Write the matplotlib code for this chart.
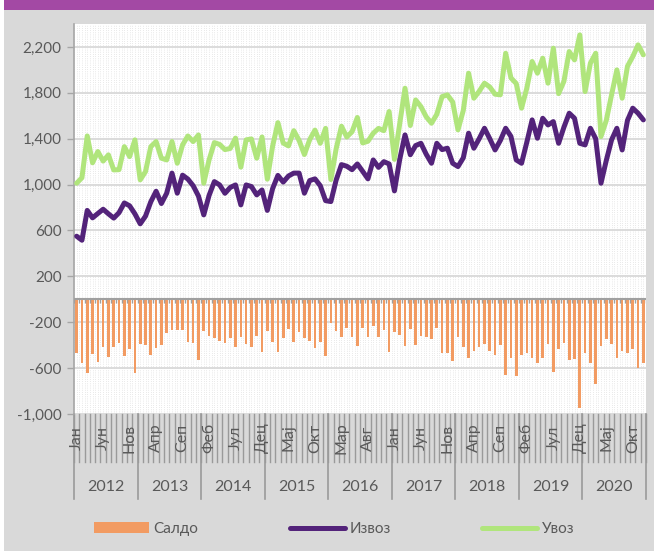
import matplotlib
matplotlib.use("Agg")
import matplotlib.pyplot as plt
import matplotlib.transforms as mtransforms
from matplotlib.patches import Patch, Rectangle
from matplotlib.lines import Line2D
import numpy as np

plt.rcParams['font.family'] = ['Lato', 'DejaVu Sans']

############################################
### data (monthly, Jan 2012 - Dec 2020)

years = ['2012', '2013', '2014', '2015', '2016', '2017', '2018', '2019', '2020']
month_names = ['Јан', 'Феб', 'Мар', 'Апр', 'Мај', 'Јун',
               'Јул', 'Авг', 'Сеп', 'Окт', 'Нов', 'Дец']

izvoz = [550, 515, 775, 710, 748, 785, 745, 708, 755, 840, 815, 745,
         658, 725, 850, 942, 835, 925, 1100, 925, 1082, 1048, 990, 900,
         736, 905, 1026, 997, 924, 975, 997, 823, 997, 983, 910, 953,
         775, 965, 1080, 1022, 1075, 1100, 1100, 925, 1035, 1050, 990, 860,
         852, 1040, 1174, 1160, 1130, 1180, 1116, 1050, 1215, 1150, 1200, 1180,
         945, 1220, 1433, 1260, 1340, 1360, 1265, 1186, 1360, 1305, 1317, 1186,
         1157, 1233, 1448, 1317, 1400, 1491, 1400, 1302, 1385, 1491, 1420, 1215,
         1186, 1370, 1564, 1404, 1578, 1520, 1549, 1360, 1500, 1622, 1578, 1360,
         1346, 1491, 1400, 1012, 1210, 1390, 1491, 1302, 1560, 1666, 1622, 1564]

uvoz = [1012, 1060, 1424, 1190, 1288, 1205, 1259, 1128, 1130, 1331, 1244, 1390,
        1041, 1113, 1331, 1375, 1230, 1215, 1375, 1186, 1346, 1424, 1375, 1433,
        1012, 1215, 1366, 1350, 1305, 1315, 1405, 1152, 1390, 1398, 1230, 1415,
        1047, 1335, 1540, 1362, 1337, 1470, 1385, 1262, 1392, 1475, 1360, 1490,
        1044, 1313, 1509, 1415, 1461, 1585, 1363, 1378, 1448, 1490, 1470, 1637,
        1220, 1531, 1840, 1515, 1738, 1680, 1591, 1535, 1613, 1767, 1782, 1720,
        1477, 1646, 1971, 1753, 1813, 1884, 1851, 1788, 1783, 2145, 1930, 1881,
        1666, 1841, 2073, 1971, 2102, 1884, 2189, 1793, 1900, 2160, 2087, 2305,
        1811, 2058, 2145, 1419, 1559, 1783, 2000, 1753, 2031, 2116, 2218, 2131]

saldo = [-465, -558, -640, -477, -544, -419, -506, -419, -384, -494, -436, -640,
         -390, -398, -485, -427, -398, -291, -267, -267, -267, -369, -378, -529,
         -276, -320, -340, -360, -384, -340, -413, -331, -392, -413, -320, -456,
         -273, -369, -456, -340, -262, -369, -282, -340, -360, -427, -369, -494,
         -204, -277, -332, -253, -332, -404, -247, -326, -230, -332, -268, -457,
         -282, -311, -407, -259, -398, -320, -326, -349, -253, -465, -465, -538,
         -326, -413, -509, -451, -413, -390, -451, -486, -398, -660, -509, -666,
         -486, -471, -509, -553, -509, -393, -631, -433, -384, -529, -518, -945,
         -465, -558, -736, -407, -349, -393, -509, -451, -471, -433, -596, -558]

yticks = [-1000, -600, -200, 200, 600, 1000, 1400, 1800, 2200]

############################################

grey_txt = '#595959'
bg = '#d9d9d9'

fig = plt.figure(figsize=(6.54, 5.51), dpi=100)
fig.patch.set_facecolor(bg)
# purple band on top + thin white strip left
fig.patches.append(Rectangle((0, 1 - 10/551.), 1, 10/551., transform=fig.transFigure,
                             facecolor='#a349a4', edgecolor='none', zorder=0))
fig.patches.append(Rectangle((0, 0), 4/654., 1, transform=fig.transFigure,
                             facecolor='white', edgecolor='none', zorder=1))

ax = fig.add_axes([74/654., 1 - 414/551., (646 - 74)/654., (414 - 24)/551.])
ax.set_facecolor('white')

n = len(izvoz)
x = np.arange(n)
ax.set_xlim(-0.5, n - 0.5)
ax.set_ylim(-1000, 2400)

# dotted texture of the plot area
for xx in np.arange(-0.5, n, 0.5):
    ax.axvline(xx, color='#e2e2e2', lw=0.6, ls=(0, (1, 1.6)), zorder=0)

ax.set_yticks(yticks)
ax.set_yticklabels(['{:,}'.format(v) for v in yticks])
ax.grid(axis='y', color='#d9d9d9', lw=1.3, zorder=1)
ax.set_xticks([])
ax.tick_params(axis='y', colors='#a6a6a6', length=5, width=1, labelsize=11,
               labelcolor=grey_txt, pad=4)
for s in ['top', 'right', 'bottom']:
    ax.spines[s].set_visible(False)
ax.spines['left'].set_color('#a6a6a6')
ax.spines['left'].set_linewidth(1.2)

# zero axis with month ticks
ax.axhline(0, color='#a0a0a0', lw=1.5, zorder=3)
ax.vlines(np.arange(-0.5, n, 1), -35, 0, color='#a0a0a0', lw=1, zorder=3)

ax.bar(x, saldo, width=0.5, color='#f29b62', zorder=2)
ax.plot(x, izvoz, color='#53237a', lw=3.6, solid_joinstyle='round',
        solid_capstyle='round', zorder=4)
ax.plot(x, uvoz, color='#b0e57c', lw=3.6, solid_joinstyle='round',
        solid_capstyle='round', zorder=4)

# multi-level category axis below the plot
trans = mtransforms.blended_transform_factory(ax.transData, ax.transAxes)
hgt = 414 - 24.
for b in np.arange(-0.5, n, 1):
    ax.plot([b, b], [0, -48/hgt], transform=trans, color='#9a9a9a', lw=1,
            clip_on=False)
for k in range(len(years) + 1):
    b = k * 12 - 0.5
    ax.plot([b, b], [0, -85/hgt], transform=trans, color='#9a9a9a', lw=1.2,
            clip_on=False)
for m in range(0, n, 5):
    ax.text(m, -24/hgt, month_names[m % 12], transform=trans, rotation=90,
            ha='center', va='center', fontsize=11.5, color=grey_txt)
for k, yr in enumerate(years):
    ax.text(k * 12 + 5.5, -73/hgt, yr, transform=trans, ha='center',
            va='center', fontsize=11.5, color=grey_txt)

handles = [Patch(facecolor='#f29b62', edgecolor='none'),
           Line2D([], [], color='#53237a', lw=3.6, solid_capstyle='round'),
           Line2D([], [], color='#b0e57c', lw=3.6, solid_capstyle='round')]
leg = fig.legend(handles, ['Салдо', 'Извоз', 'Увоз'], loc='center',
                 bbox_to_anchor=(334/654., 1 - 529/551.), ncol=3, frameon=False,
                 fontsize=11, handlelength=3.6, handletextpad=0.3,
                 columnspacing=6.0)
for t in leg.get_texts():
    t.set_color(grey_txt)

fig.savefig('out.png', dpi=100, facecolor=fig.get_facecolor())
